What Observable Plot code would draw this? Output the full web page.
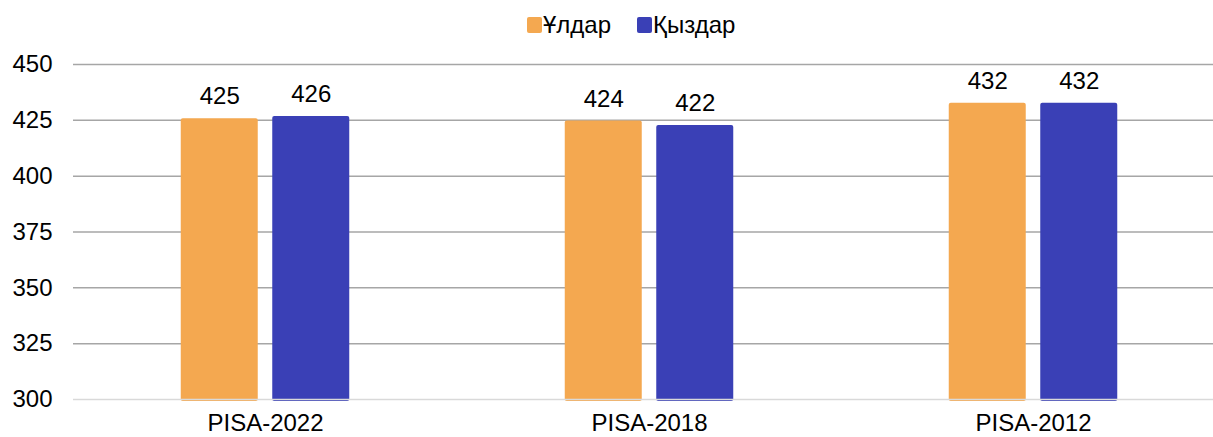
<!DOCTYPE html>
<html>
<head>
<meta charset="utf-8">
<script src="https://cdn.jsdelivr.net/npm/d3@7"></script>
<script src="https://cdn.jsdelivr.net/npm/@observablehq/plot@0.6"></script>
<style>
  html, body { margin: 0; padding: 0; background: #fff; }
  body { width: 1213px; height: 437px; overflow: hidden; font-family: "Liberation Sans", Arial, sans-serif; }
  #legend { position: relative; height: 50px; }
  .item { position: absolute; top: 11px; display: flex; align-items: center; font-size: 24px; color: #000; line-height: 28px; }
  .sw { width: 15px; height: 16px; border-radius: 2px; margin-right: 1px; }
</style>
</head>
<body>
<div id="legend"></div>
<div id="chart"></div>
<script>
const categories = ["PISA-2022", "PISA-2018", "PISA-2012"];
const seriesNames = ["Ұлдар", "Қыздар"];
const boys = [425, 424, 432];
const girls = [426, 422, 432];
const yTicks = [300, 325, 350, 375, 400, 425, 450];
const colors = ["#F4A850", "#3A40B6"];

const boysData = categories.map((c, i) => ({cat: c, value: boys[i]}));
const girlsData = categories.map((c, i) => ({cat: c, value: girls[i]}));

// legend
const legend = document.getElementById("legend");
const legendLeft = [527, 637];
seriesNames.forEach((name, i) => {
  const it = document.createElement("div");
  it.className = "item";
  it.style.left = legendLeft[i] + "px";
  const sw = document.createElement("span");
  sw.className = "sw";
  sw.style.background = colors[i];
  const tx = document.createElement("span");
  tx.textContent = name;
  it.appendChild(sw);
  it.appendChild(tx);
  legend.appendChild(it);
});

const font = "Liberation Sans, Arial, sans-serif";
const barOpts = {x: "cat", y1: () => 300, y2: "value", rx: 2, insetTop: -1.5, insetBottom: -2};

const chart = Plot.plot({
  width: 1213,
  height: 387,
  marginTop: 14,
  marginBottom: 38,
  marginLeft: 73,
  marginRight: 0,
  style: {fontFamily: font, fontSize: "24px", color: "#000", background: "#fff"},
  x: {type: "band", domain: categories, range: [73, 1225], padding: 0, label: null},
  y: {domain: [300, 450], label: null},
  marks: [
    Plot.ruleY(yTicks.filter(t => t !== 300), {stroke: "#a6a6a6", strokeWidth: 1.5}),
    Plot.barY(boysData, {...barOpts, fill: colors[0], insetLeft: 107.75, insetRight: 199.25}),
    Plot.barY(girlsData, {...barOpts, fill: colors[1], insetLeft: 199.25, insetRight: 107.75}),
    Plot.ruleY([300], {stroke: "#d9d9d9", strokeWidth: 1.5}),
    Plot.text(boysData, {x: "cat", y: "value", text: d => String(d.value), dx: -45.75, dy: -16, lineAnchor: "bottom", fontSize: 24, fill: "#000"}),
    Plot.text(girlsData, {x: "cat", y: "value", text: d => String(d.value), dx: 45.75, dy: -16, lineAnchor: "bottom", fontSize: 24, fill: "#000"}),
    Plot.axisY({ticks: yTicks, tickSize: 0, tickPadding: 21, label: null, fontSize: 24}),
    Plot.axisX({tickSize: 0, tickPadding: 14, label: null, fontSize: 24})
  ]
});
document.getElementById("chart").appendChild(chart);
</script>
</body>
</html>
